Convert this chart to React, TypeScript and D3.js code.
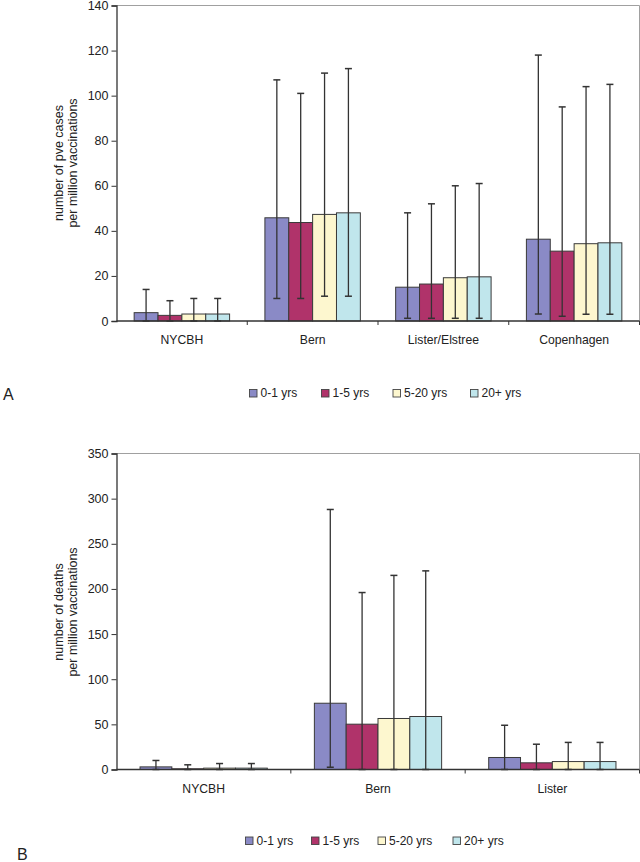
import React, { useEffect, useRef } from 'react';
import * as d3 from 'd3';

const series = ['0-1 yrs', '1-5 yrs', '5-20 yrs', '20+ yrs'];
const colors = ['#8a8ac6', '#b0336a', '#fdf7cf', '#c0e6ec'];

// panel A: pve cases per million vaccinations
const casesCategories = ['NYCBH', 'Bern', 'Lister/Elstree', 'Copenhagen'];
const casesValues = [
  [3.7, 2.5, 3.1, 3.1],
  [45.8, 43.7, 47.3, 48],
  [15, 16.4, 19.2, 19.6],
  [36.3, 31, 34.3, 34.7],
];
const casesLow = [
  [0, 0, 0, 0],
  [10, 10, 11, 11],
  [1.2, 1.2, 1.2, 1.2],
  [3.1, 2.1, 3, 3],
];
const casesHigh = [
  [14, 9, 10, 10],
  [107, 101, 110, 112],
  [48, 52, 60, 61],
  [118, 95, 104, 105],
];
const casesTicks = [0, 20, 40, 60, 80, 100, 120, 140];

// panel B: deaths per million vaccinations
const deathCategories = ['NYCBH', 'Bern', 'Lister'];
const deathValues = [
  [2.9, 0.8, 1.5, 1.5],
  [73.4, 50.2, 56.5, 58.7],
  [13.3, 7.4, 8.8, 8.8],
];
const deathLow = [
  [0, 0, 0, 0],
  [2.5, 0, 0, 0],
  [0, 0, 0, 0],
];
const deathHigh = [
  [10, 5.2, 6.6, 6.6],
  [288, 196, 215, 220],
  [49, 28, 30, 30],
];
const deathTicks = [0, 50, 100, 150, 200, 250, 300, 350];

const FONT = '"Liberation Sans", Arial, sans-serif';

function drawPanel(g, opts) {
  const { cats, vals, lo, hi, ticks, top, bottom, left, right, labelLines, labelCy, legendY, legendX, letter, letterX, letterY } = opts;
  const x = d3.scaleBand().domain(cats).range([left, right]).padding(0);
  const xs = d3.scaleBand().domain(series).range([0, x.bandwidth()]).paddingInner(0).paddingOuter(0.74);
  const y = d3.scaleLinear().domain([0, ticks[ticks.length - 1]]).range([bottom, top]);

  // plot border (top/right gray)
  g.append('path')
    .attr('d', `M${left},${top}H${right}V${bottom}`)
    .attr('fill', 'none').attr('stroke', '#a0a0a0').attr('stroke-width', 1);

  cats.forEach((c, i) => {
    const grp = g.append('g');
    series.forEach((s, j) => {
      const bx = x(c) + xs(s);
      grp.append('rect')
        .attr('x', bx).attr('y', y(vals[i][j]))
        .attr('width', xs.bandwidth()).attr('height', y(0) - y(vals[i][j]))
        .attr('fill', colors[j]).attr('stroke', '#3a3a3a').attr('stroke-width', 1);
    });
    series.forEach((s, j) => {
      const cx = x(c) + xs(s) + xs.bandwidth() / 2;
      grp.append('line')
        .attr('x1', cx).attr('x2', cx).attr('y1', y(lo[i][j])).attr('y2', y(hi[i][j]))
        .attr('stroke', '#333').attr('stroke-width', 1.3);
      [lo[i][j], hi[i][j]].forEach(v => {
        grp.append('line')
          .attr('x1', cx - 3.5).attr('x2', cx + 3.5).attr('y1', y(v)).attr('y2', y(v))
          .attr('stroke', '#333').attr('stroke-width', 1.5);
      });
    });
    g.append('text')
      .attr('x', x(c) + x.bandwidth() / 2).attr('y', bottom + 23)
      .attr('text-anchor', 'middle').attr('font-size', 12.2).attr('fill', '#222')
      .text(c);
  });

  // y axis
  const yAxis = g.append('g').attr('transform', `translate(${left},0)`)
    .call(d3.axisLeft(y).tickValues(ticks).tickSize(5).tickPadding(3).tickFormat(d3.format('d')));
  yAxis.select('.domain').attr('stroke', '#333').attr('stroke-width', 1.3);
  yAxis.selectAll('.tick line').attr('stroke', '#333');
  yAxis.selectAll('.tick text').attr('font-family', FONT).attr('font-size', 12.5).attr('fill', '#222');

  // x axis
  g.append('line').attr('x1', left).attr('x2', right).attr('y1', bottom).attr('y2', bottom)
    .attr('stroke', '#333').attr('stroke-width', 1.3);
  cats.forEach(c => {
    const tx = x(c) + x.bandwidth();
    g.append('line').attr('x1', tx).attr('x2', tx).attr('y1', bottom).attr('y2', bottom + 4)
      .attr('stroke', '#333');
  });

  // axis title
  const t = g.append('text')
    .attr('transform', `translate(63,${labelCy}) rotate(-90)`)
    .attr('text-anchor', 'middle').attr('font-size', 12.5).attr('fill', '#222');
  labelLines.forEach((l, k) => {
    t.append('tspan').attr('x', 0).attr('dy', k === 0 ? 0 : 14).text(l);
  });

  // legend
  series.forEach((s, j) => {
    g.append('rect').attr('x', legendX[j]).attr('y', legendY - 7.5).attr('width', 7.5).attr('height', 7.5)
      .attr('fill', colors[j]).attr('stroke', '#444').attr('stroke-width', 0.9);
    g.append('text').attr('x', legendX[j] + 11).attr('y', legendY)
      .attr('font-size', 12).attr('fill', '#222').text(s);
  });

  g.append('text').attr('x', letterX).attr('y', letterY).attr('font-size', 16).attr('fill', '#222').text(letter);
}

export default function App() {
  const svgRef = useRef(null);

  useEffect(() => {
    const svg = d3.select(svgRef.current);
    svg.selectAll('*').remove();
    const g = svg.append('g').attr('font-family', FONT);

    drawPanel(g, {
      cats: casesCategories, vals: casesValues, lo: casesLow, hi: casesHigh, ticks: casesTicks,
      top: 5.5, bottom: 321, left: 116.5, right: 639.5,
      labelLines: ['number of pve cases', 'per million vaccinations'], labelCy: 163,
      legendY: 397, legendX: [249.5, 321.5, 393, 470.5], letter: 'A', letterX: 3, letterY: 400,
    });
    drawPanel(g, {
      cats: deathCategories, vals: deathValues, lo: deathLow, hi: deathHigh, ticks: deathTicks,
      top: 453.5, bottom: 769.5, left: 116.5, right: 639.5,
      labelLines: ['number of deaths', 'per million vaccinations'], labelCy: 612,
      legendY: 844.5, legendX: [245.5, 311.5, 378, 453], letter: 'B', letterX: 17, letterY: 860,
    });
  }, []);

  return (
    <svg ref={svgRef} width={640} height={862}
      style={{ position: 'absolute', left: 0, top: 0, background: '#fff' }} />
  );
}
